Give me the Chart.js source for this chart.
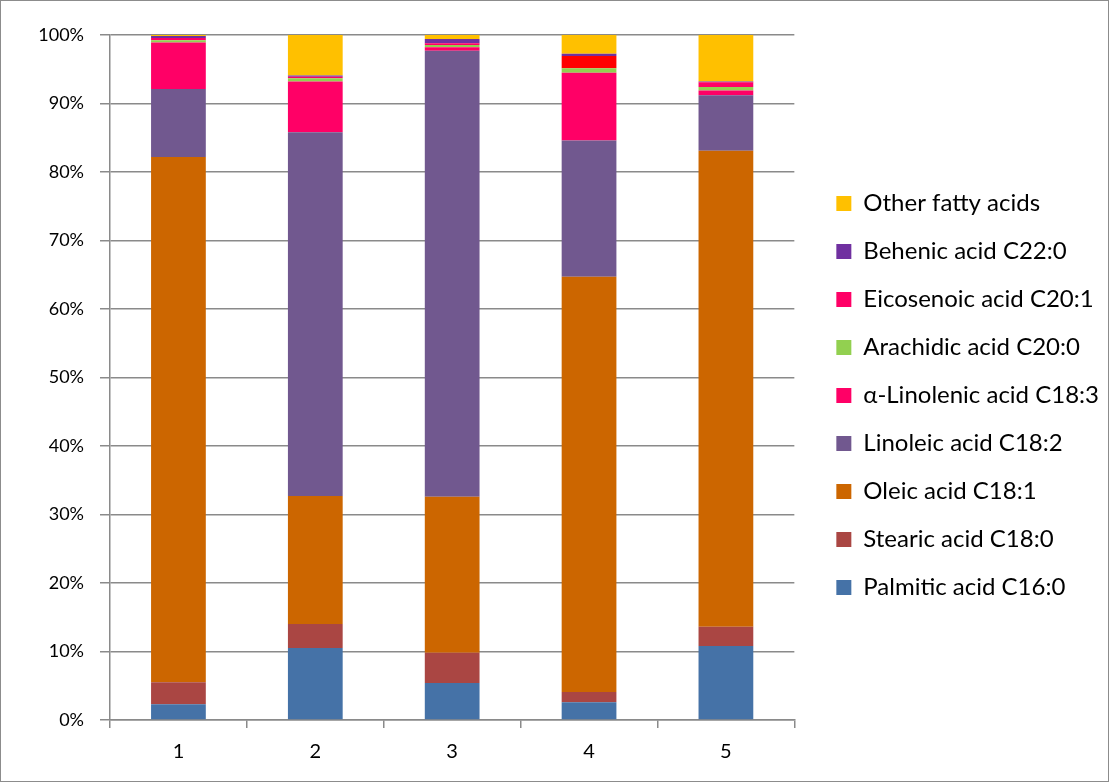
<!DOCTYPE html>
<html>
<head>
<meta charset="utf-8">
<script src="https://cdn.jsdelivr.net/npm/chart.js@4/dist/chart.umd.min.js"></script>
<style>
  html, body { margin: 0; padding: 0; background: #fff; }
  #wrap { width: 1109px; height: 782px; position: relative; }
</style>
</head>
<body>
<div id="wrap"><canvas id="chart" width="1109" height="782"></canvas></div>
<script>
"use strict";

// samples 1..5, composition in % of total fatty acids
const SAMPLES = ["1", "2", "3", "4", "5"];

const palmitic    = [2.3, 10.5, 5.4, 2.6, 10.8];
const stearic     = [3.2, 3.5, 4.4, 1.5, 2.8];
const oleic       = [76.7, 18.7, 22.8, 60.6, 69.5];
const linoleic    = [9.9, 53.1, 65.1, 19.9, 8.1];
const linolenic   = [6.8, 7.4, 0.5, 9.9, 0.7];
const arachidic   = [0.35, 0.5, 0.35, 0.65, 0.5];
const eicosenoic  = [0.3, 0.2, 0.25, 1.8, 0.7];
const behenic     = [0.3, 0.2, 0.6, 0.3, 0.1];
const otherFA     = [0.15, 5.9, 0.6, 2.8, 6.8];

const Y_TICKS = [0, 10, 20, 30, 40, 50, 60, 70, 80, 90, 100];

const FONT = "Lato, 'Liberation Sans', sans-serif";
const GRID = "#8a8a8a";

const SERIES = [
  { label: "Palmitic acid C16:0",       data: palmitic,   color: "#4572A7" },
  { label: "Stearic acid C18:0",        data: stearic,    color: "#AA4643" },
  { label: "Oleic acid C18:1",          data: oleic,      color: "#CC6600" },
  { label: "Linoleic acid C18:2",       data: linoleic,   color: "#71588F" },
  { label: "\u03b1-Linolenic acid C18:3", data: linolenic, color: "#FF0066" },
  { label: "Arachidic acid C20:0",      data: arachidic,  color: "#92D050" },
  { label: "Eicosenoic acid C20:1",     data: eicosenoic, color: "#FF0066" },
  { label: "Behenic acid C22:0",        data: behenic,    color: "#7030A0" },
  { label: "Other fatty acids",         data: otherFA,    color: "#FFC000" },
];

// sample 4's eicosenoic segment is filled red in the original
function segColor(s) {
  return (ctx) => {
    if (s.label.startsWith("Eicosenoic") && ctx.dataIndex === 3) return "#FF0000";
    return s.color;
  };
}

const frame = {
  id: "frame",
  afterDraw(chart) {
    const c = chart.ctx;
    c.save();
    c.strokeStyle = "#8c8c8c";
    c.lineWidth = 1;
    c.strokeRect(0.5, 0.5, chart.width - 1, chart.height - 1);
    c.restore();
  },
};

// empty spacer axes, only used to push the plot area around
const spacer = (pos, axis, size) => ({
  type: "linear",
  axis,
  position: pos,
  display: true,
  grid: { display: false },
  border: { display: false },
  ticks: { display: false },
  afterFit: s => { if (axis === "x") s.height = size; else s.width = size; },
});

new Chart(document.getElementById("chart"), {
  type: "bar",
  data: {
    labels: SAMPLES,
    datasets: SERIES.map(s => ({
      label: s.label,
      data: s.data,
      backgroundColor: segColor(s),
      borderWidth: 0,
      barPercentage: 0.4,
      categoryPercentage: 1.0,
    })),
  },
  options: {
    responsive: false,
    animation: false,
    layout: { padding: { top: 9, right: 0, bottom: 0, left: 0 } },
    plugins: {
      tooltip: { enabled: false },
      legend: {
        position: "right",
        reverse: true,
        maxWidth: 340,
        labels: {
          font: { family: FONT, size: 24 },
          color: "#000",
          boxWidth: 15,
          boxHeight: 15,
          padding: 24,
        },
      },
    },
    scales: {
      x: {
        stacked: true,
        offset: true,
        grid: { offset: true, drawOnChartArea: false, drawTicks: true, tickLength: 8, color: GRID, lineWidth: 1.5 },
        border: { display: true, color: GRID, width: 1.5 },
        ticks: { font: { family: FONT, size: 20 }, color: "#000", padding: 12 },
        afterFit: s => { s.height = 62; },
      },
      y: {
        stacked: true,
        min: 0,
        max: 100,
        afterBuildTicks: s => { s.ticks = Y_TICKS.map(v => ({ value: v })); },
        grid: { color: GRID, lineWidth: 1.5, tickLength: 10 },
        border: { display: true, color: GRID, width: 1.5 },
        ticks: { font: { family: FONT, size: 18 }, color: "#000", padding: 16, callback: v => v + "%" },
        afterFit: s => { s.width = 110; },
      },
      yPad: spacer("right", "y", 18),
      xPad: spacer("top", "x", 26),
    },
  },
  plugins: [frame],
});
</script>
</body>
</html>
